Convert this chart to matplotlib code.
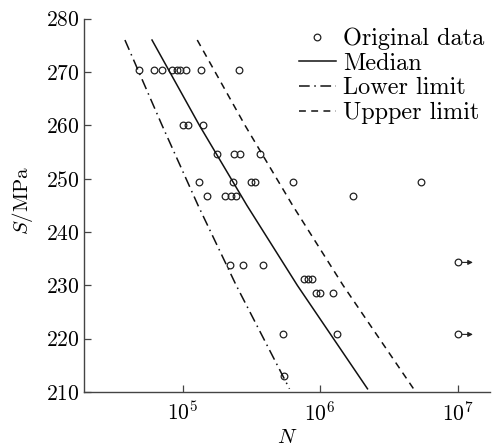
import matplotlib
matplotlib.use("Agg")
import matplotlib.pyplot as plt
import numpy as np

plt.rcParams['font.family'] = 'serif'
plt.rcParams['font.serif'] = ['cmr10', 'DejaVu Serif']
plt.rcParams['mathtext.fontset'] = 'cm'
plt.rcParams['axes.formatter.use_mathtext'] = True

# Original data (fatigue life N, stress S in MPa)
N_data = [4.81e4, 6.18e4, 7.06e4, 8.36e4, 9.1e4, 9.55e4, 1.057e5, 1.36e5, 2.56e5,
          1.005e5, 1.09e5, 1.41e5,
          1.79e5, 2.35e5, 2.61e5, 3.65e5,
          1.324e5, 2.34e5, 3.14e5, 3.36e5, 6.3e5, 5.38e6,
          1.50e5, 2.03e5, 2.23e5, 2.44e5, 1.72e6,
          2.22e5, 2.76e5, 3.84e5,
          7.62e5, 8.15e5, 8.71e5,
          9.25e5, 9.89e5, 1.25e6,
          5.39e5, 1.33e6,
          5.48e5]
S_data = [270.4] * 9 + [260.0] * 3 + [254.6] * 4 + [249.4] * 6 + [246.8] * 5 + \
         [233.8] * 3 + [231.2] * 3 + [228.6] * 3 + [220.8] * 2 + [213.0]

# Run-out specimens
N_runout = [1.0e7, 1.0e7]
S_runout = [234.3, 220.8]

# Curves
S_curve = [276.0, 260.0, 245.0, 230.0, 210.6]
N_median = [5.98e4, 1.323e5, 2.93e5, 6.82e5, 2.21e6]
N_lower = [3.80e4, 7.08e4, 1.293e5, 2.45e5, 5.98e5]
N_upper = [1.276e5, 2.84e5, 6.30e5, 1.468e6, 4.78e6]

fig = plt.figure(figsize=(4.97, 4.48), dpi=100)
ax = fig.add_axes([84 / 497, 1 - 392 / 448, (490 - 84) / 497, (392 - 18.7) / 448])

ax.plot(N_data + N_runout, S_data + S_runout, 'o', ms=4.8, mfc='none', mec='#222222',
        mew=0.9, ls='none', label='Original data')
ax.plot(N_median, S_curve, '-', color='#111111', lw=1.1, label='Median')
ax.plot(N_lower, S_curve, color='#111111', lw=1.1, dashes=(7, 3, 1, 3), label='Lower limit')
ax.plot(N_upper, S_curve, color='#111111', lw=1.1, dashes=(4.5, 3.5), label='Uppper limit')

for n, s in zip(N_runout, S_runout):
    ax.annotate('', xy=(n, s), xytext=(11, 0), textcoords='offset points',
                arrowprops=dict(arrowstyle='<|-', color='#222222', lw=0.8,
                                shrinkA=0, shrinkB=3.2, mutation_scale=7))

ax.set_xscale('log')
ax.set_xlim(1.914e4, 1.72e7)
ax.set_ylim(210, 280)
ax.set_xticks([1e5, 1e6, 1e7])
ax.minorticks_off()
ax.set_yticks([210, 220, 230, 240, 250, 260, 270, 280])

for sp in ['top', 'right']:
    ax.spines[sp].set_visible(False)
for sp in ['left', 'bottom']:
    ax.spines[sp].set_color('#444444')
    ax.spines[sp].set_linewidth(1.0)

ax.tick_params(direction='in', length=5, width=0.9, color='#444444', labelsize=15.5)
ax.tick_params(axis='y', pad=3)
ax.tick_params(axis='x', pad=6)

ax.set_xlabel(r'$N$', fontsize=15)
ax.set_ylabel(r'$S/\mathrm{MPa}$', fontsize=15)
ax.xaxis.set_label_coords(0.5, -0.098)
ax.yaxis.set_label_coords(-0.121, 0.514)

ax.legend(loc='upper right', bbox_to_anchor=(1.005, 0.995), frameon=False, fontsize=17.5,
          handlelength=1.55, handletextpad=0.3, labelspacing=0.1, borderaxespad=0.1,
          borderpad=0.2)

fig.savefig('out.png', dpi=100)
